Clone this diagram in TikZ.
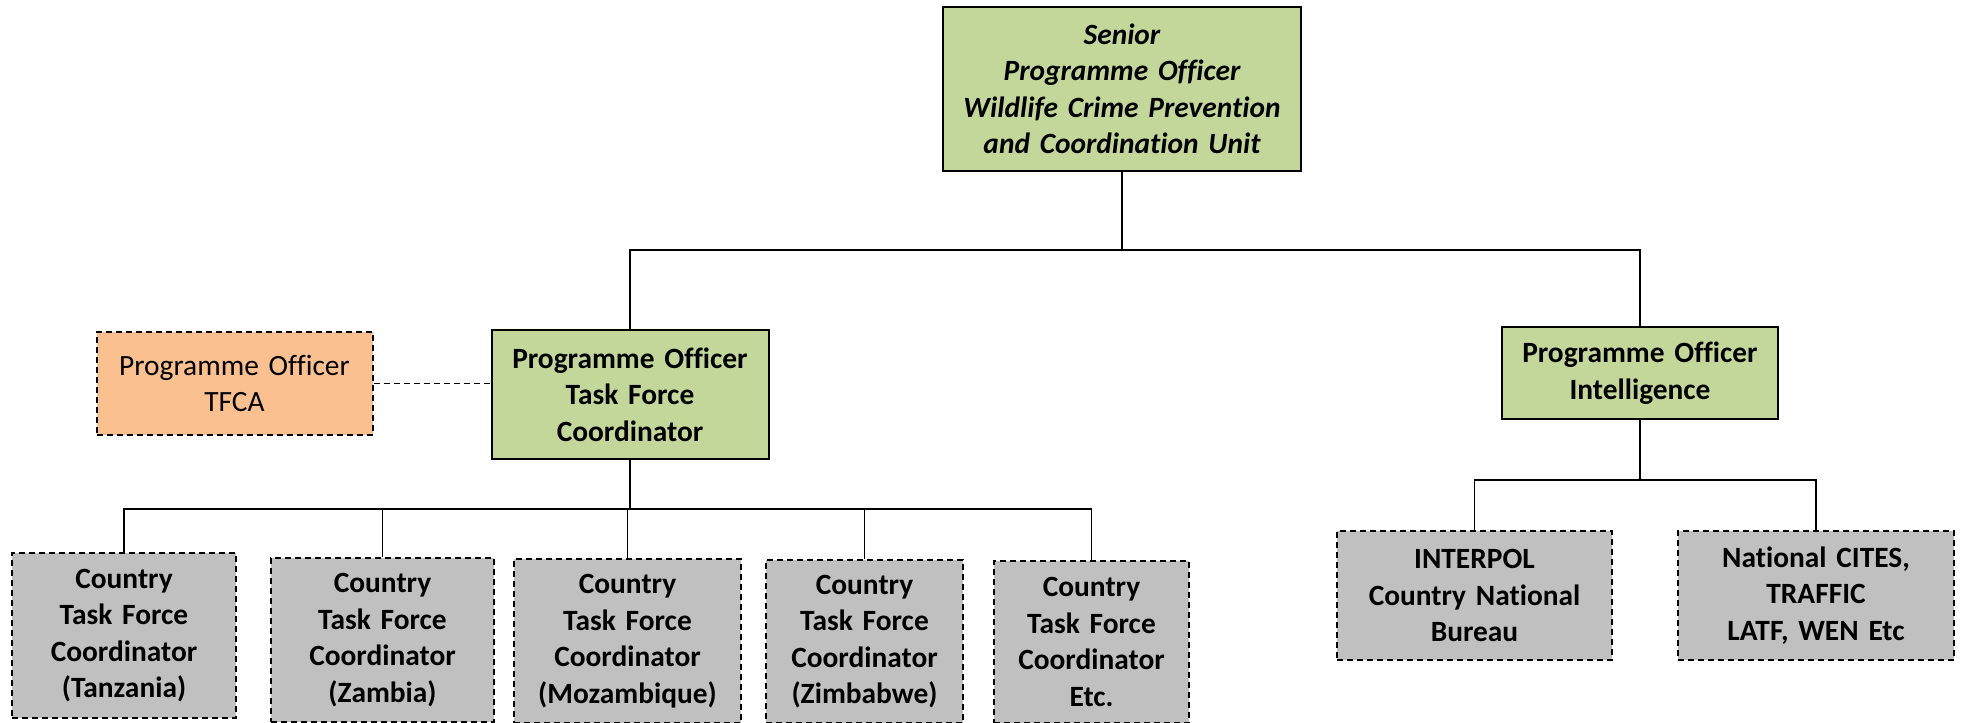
\documentclass[tikz,border=0pt]{standalone}
\usepackage{fontspec}
\setmainfont{Carlito}[RawFeature=-liga]
\definecolor{boxgreen}{HTML}{C4D79B}
\definecolor{boxorange}{HTML}{FAC090}
\definecolor{boxgray}{HTML}{C0C0C0}
\tikzset{
  base/.style={draw=black, line width=2pt, inner sep=0pt, align=center,
    font=\fontsize{29.4}{36.5}\selectfont\bfseries},
  greenbox/.style={base, fill=boxgreen},
  orangebox/.style={base, fill=boxorange, dashed, dash pattern=on 6pt off 4pt,
    font=\fontsize{29.4}{36.5}\selectfont},
  graybox/.style={base, fill=boxgray, dash pattern=on 6pt off 4pt},
  conn/.style={line width=1.9pt, draw=black},
}
\begin{document}
\begin{tikzpicture}[x=1pt, y=-1pt]
\useasboundingbox (0,0) rectangle (1966,723);
\node[greenbox, minimum width=358pt, minimum height=164pt, text width=350pt,
  font=\fontsize{29.4}{36.5}\selectfont\bfseries\itshape] (top) at (1122,89)
  {Senior\\Programme Officer\\Wildlife Crime Prevention\\and Coordination Unit};
\node[greenbox, minimum width=277pt, minimum height=129pt, text width=270pt] (tfc) at (630,394.5)
  {Programme Officer\\Task Force\\Coordinator};
\node[orangebox, minimum width=276pt, minimum height=103pt, text width=270pt] (tfca) at (234.5,383.5)
  {Programme Officer\\TFCA};
\node[greenbox, minimum width=276pt, minimum height=92pt, text width=270pt] (intel) at (1640,373)
  {Programme Officer\\Intelligence};
\node[graybox, minimum width=224pt, minimum height=165pt, text width=220pt] (tz) at (124,635.5)
  {Country\\Task Force\\Coordinator\\(Tanzania)};
\node[graybox, minimum width=223pt, minimum height=164pt, text width=220pt] (zm) at (382.5,640)
  {Country\\Task Force\\Coordinator\\(Zambia)};
\node[graybox, minimum width=227pt, minimum height=164pt, text width=220pt] (mz) at (627.5,641)
  {Country\\Task Force\\Coordinator\\(Mozambique)};
\node[graybox, minimum width=197pt, minimum height=163pt, text width=190pt] (zw) at (864.5,641.5)
  {Country\\Task Force\\Coordinator\\(Zimbabwe)};
\node[graybox, minimum width=195pt, minimum height=162pt, text width=190pt] (etc) at (1091.5,642)
  {Country\\Task Force\\Coordinator\\Etc.};
\node[graybox, minimum width=275pt, minimum height=129pt, text width=270pt] (interpol) at (1474.5,595.5)
  {INTERPOL\\Country National\\Bureau};
\node[graybox, minimum width=276pt, minimum height=129pt, text width=270pt] (cites) at (1816,595.5)
  {National CITES,\\TRAFFIC\\LATF, WEN Etc};
\coordinate (h1) at (0,250);
\coordinate (h2) at (0,509);
\coordinate (h3) at (0,480);
\draw[conn] (top.south) -- (top.south |- h1);
\draw[conn] (tfc.north) -- (tfc.north |- h1) -- (intel.north |- h1) -- (intel.north);
\draw[conn, dash pattern=on 6pt off 4pt] (tfca.east) -- (tfca.east -| tfc.west);
\draw[conn] (tfc.south) -- (tfc.south |- h2);
\draw[conn] (tz.north) -- (tz.north |- h2) -- (etc.north |- h2) -- (etc.north);
\draw[conn] (zm.north) -- (zm.north |- h2);
\draw[conn] (mz.north) -- (mz.north |- h2);
\draw[conn] (zw.north) -- (zw.north |- h2);
\draw[conn] (intel.south) -- (intel.south |- h3);
\draw[conn] (interpol.north) -- (interpol.north |- h3) -- (cites.north |- h3) -- (cites.north);
\end{tikzpicture}
\end{document}
